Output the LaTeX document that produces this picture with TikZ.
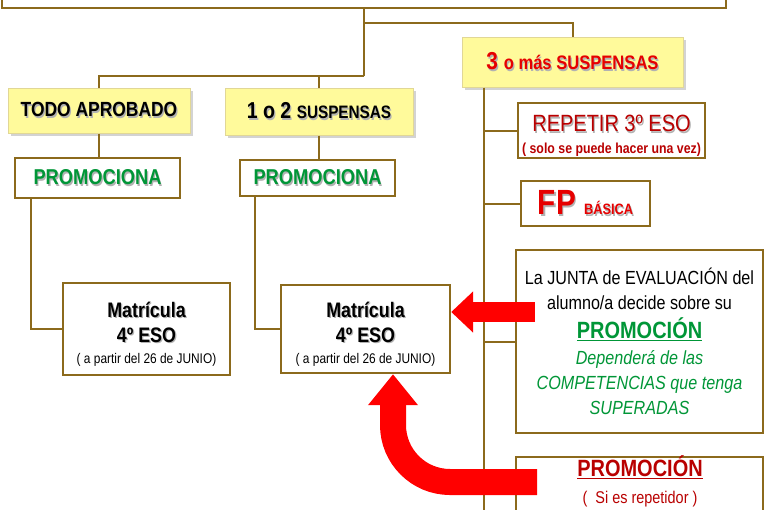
\documentclass[tikz,border=0pt]{standalone}
\usepackage{fontspec}
\setmainfont{Liberation Sans}[FakeStretch=0.85]
\usetikzlibrary{arrows.meta,shadows}

\definecolor{marron}{RGB}{140,106,28}
\definecolor{amarillo}{RGB}{255,250,155}
\definecolor{bordeam}{RGB}{225,215,150}
\definecolor{verde}{RGB}{0,150,55}
\definecolor{rojo}{RGB}{230,0,0}
\definecolor{granate}{RGB}{185,0,0}
\definecolor{flechaR}{RGB}{255,0,0}

% tamano de letra, con interlineado opcional
\newcommand{\tam}[2][25]{\fontsize{#2}{#1}\selectfont}
% texto con sombra gris
\newcommand{\sombra}[1]{\makebox[0pt][l]{\color{black!30}\kern1.2pt\raisebox{-1.2pt}{#1}}#1}

\tikzset{
  linea/.style={draw=marron, line width=2pt},
  caja/.style={draw=marron, line width=2.4pt, fill=white, inner sep=0pt, align=center},
  amarilla/.style={draw=bordeam, line width=1pt, fill=amarillo, inner sep=0pt, align=center,
    drop shadow={shadow xshift=2.5pt, shadow yshift=-2.5pt, opacity=0.35}},
}

\begin{document}
\begin{tikzpicture}[x=1pt,y=-1pt]
    \useasboundingbox (0,0) rectangle (765,509);
    \clip (0,0) rectangle (765,509);
    % cajas
    \node[caja, minimum width=724, minimum height=60] (top) at (364,-22) {};
    \node[amarilla, minimum width=221, minimum height=50] (tres) at (572.5,62)
        {\color{rojo}\bfseries\sombra{\tam{24.5}3 \tam{19.5}o más SUSPENSAS}};
    \node[amarilla, minimum width=182, minimum height=45] (todo) at (99,110.5)
        {\bfseries\sombra{\tam{20.5}TODO APROBADO}};
    \node[amarilla, minimum width=188, minimum height=47] (unodos) at (319,111.5)
        {\bfseries\sombra{\tam{23}1 o 2 \tam{18}SUSPENSAS}};
    \node[caja, minimum width=165, minimum height=40] (prom1) at (97.5,178)
        {\color{verde}\bfseries\sombra{\tam{21.5}PROMOCIONA}};
    \node[caja, minimum width=155, minimum height=36] (prom2) at (317.5,178)
        {\color{verde}\bfseries\sombra{\tam{21.5}PROMOCIONA}};
    \node[caja, font={\tam[21]{14}}, minimum width=167, minimum height=92] (mat1) at (146.5,329)
        {\rule{0pt}{25pt}\bfseries\sombra{\tam{21}Matrícula}\\[4pt]
         \bfseries\sombra{\tam{21}4º ESO}\\
         ( a partir del 26 de JUNIO)};
    \node[caja, font={\tam[21]{14}}, minimum width=169, minimum height=88] (mat2) at (365.5,329)
        {\rule{0pt}{25pt}\bfseries\sombra{\tam{21}Matrícula}\\[4pt]
         \bfseries\sombra{\tam{21}4º ESO}\\
         ( a partir del 26 de JUNIO)};
    \node[caja, font={\tam[21]{14.5}}, minimum width=187, minimum height=55] (repetir) at (611.5,130.5)
        {\rule{0pt}{27pt}\color{granate}\sombra{\tam{23.5}REPETIR 3º ESO}\\
         \color{granate}\bfseries ( solo se puede hacer una vez)};
    \node[caja, minimum width=129, minimum height=45] (fp) at (585.5,203.5)
        {\color{rojo}\bfseries\sombra{\tam{35}FP \tam{15}BÁSICA}};
    \node[caja, font={\tam[25]{19}}, minimum width=247, minimum height=183] (junta) at (639.5,341.5)
        {La JUNTA de EVALUACIÓN del\\
         alumno/a decide sobre su\\[4pt]
         \color{verde}\bfseries\tam{23.5}\underline{PROMOCIÓN}\\[1pt]
         \color{verde}\itshape Dependerá de las\\
         \color{verde}\itshape COMPETENCIAS que tenga\\
         \color{verde}\itshape SUPERADAS};
    \node[caja, minimum width=247, minimum height=84, anchor=north] (promrep) at (639.5,456) {};
    \node[align=center, inner sep=0pt, font={\tam[27]{17}}] (promtxt) at (640,481)
        {\color{granate}\bfseries\tam{23.5}\underline{PROMOCIÓN}\\
         \color{granate}(\ \ Si es repetidor )};
    % conectores
    \draw[linea] (top.south) -- ++(0,67) coordinate (nudo);
    \draw[linea] (nudo) -| (todo.north);
    \draw[linea] (nudo) -| (unodos.north);
    \draw[linea] (top.south) ++(0,14) -| (tres.north);
    \draw[linea] (todo.south) -- (todo.south |- prom1.north);
    \draw[linea] (unodos.south) -- (unodos.south |- prom2.north);
    \draw[linea] ([xshift=17pt]prom1.south west) |- (mat1.west);
    \draw[linea] ([xshift=16pt]prom2.south west) |- (mat2.west);
    \coordinate (eje) at ([xshift=22pt]tres.south west);
    \coordinate (fondo) at (0,515);
    \draw[linea] (eje) -- (eje |- fondo);
    \draw[linea] (eje |- repetir.west) -- (repetir.west);
    \draw[linea] (eje |- fp.west) -- (fp.west);
    \draw[linea] (eje |- junta.west) -- (junta.west);
    % flechas rojas
    \coordinate (a1) at (535,312);
    \draw[flechaR, line width=20pt, -{Triangle[length=22pt,width=40pt]}] (a1) -- (a1 -| mat2.east);
    \coordinate (a2) at (537,482);
    \draw[flechaR, line width=26pt, rounded corners=57pt, -{Triangle[length=31pt,width=48pt]}]
        (a2) -| ([xshift=27.5pt]mat2.south);
\end{tikzpicture}
\end{document}
